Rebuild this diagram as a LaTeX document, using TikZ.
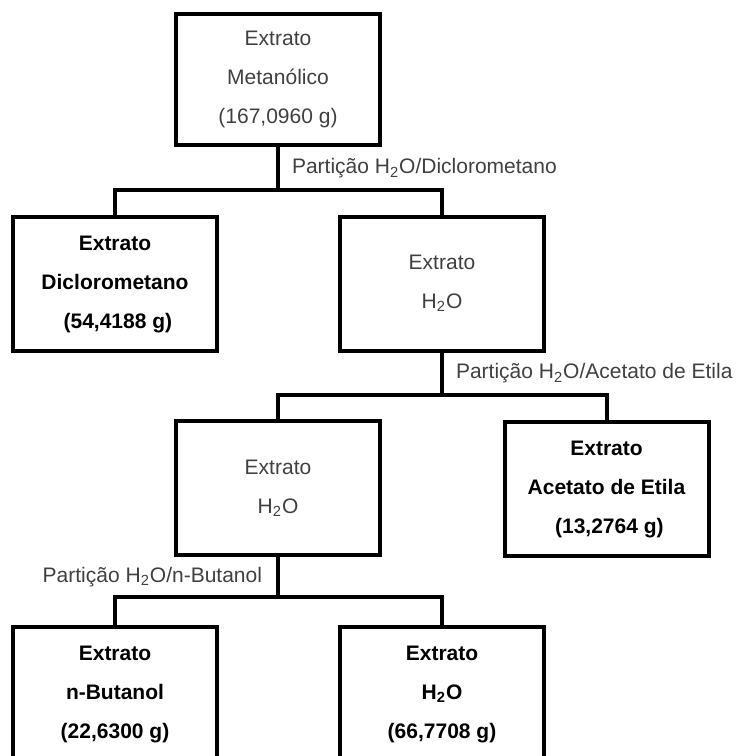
\documentclass[tikz,border=0pt]{standalone}
\usepackage{fontspec}
\setmainfont{Liberation Sans}
\usetikzlibrary{positioning}

\begin{document}
\begin{tikzpicture}[
  x=0.5pt, y=-0.5pt,
  font=\fontsize{10.5}{19.5}\selectfont,
  box/.style={rectangle, draw, line width=2pt, minimum width=102pt,
              minimum height=67pt, align=center, inner sep=0pt},
  plainbox/.style={box, text=black!75},
  boldbox/.style={box, font=\fontsize{10.5}{19.5}\selectfont\bfseries},
  link/.style={line width=2pt},
  part/.style={font=\fontsize{10.5}{12}\selectfont, text=black!75, inner sep=1pt},
  ]
  % --- page frame ---
  \clip (0,0) rectangle (738,756);

  % --- extracts ---
  \node[plainbox, minimum height=65.5pt] (met) at (278,79.5)
    {Extrato\\Metanólico\\(167,0960 g)};
  \node[boldbox] (dcm) at (115,284) {Extrato\\Diclorometano\\\ (54,4188 g)};
  \node[plainbox] (aq1) at (442,283.5) {Extrato\\H\textsubscript{2}O};
  \node[plainbox] (aq2) at (278,488) {Extrato\\H\textsubscript{2}O};
  \node[boldbox] (ace) at (606.5,489) {Extrato\\Acetato de Etila\\\ (13,2764 g)};
  \node[boldbox] (but) at (115,694) {Extrato\\n-Butanol\\(22,6300 g)};
  \node[boldbox] (aq3) at (442,694) {Extrato\\H\textsubscript{2}O\\(66,7708 g)};

  % --- partitions ---
  \draw[link] (met.south) -- node[part, right=5pt]
    {Partição H\textsubscript{2}O/Diclorometano} ++(0,43) coordinate (j1);
  \draw[link] (dcm.north) |- (j1) -| (aq1.north);

  \draw[link] (aq1.south) -- node[part, right=5pt]
    {Partição H\textsubscript{2}O/Acetato de Etila} ++(0,42) coordinate (j2);
  \draw[link] (aq2.north) |- (j2) -| (ace.north);

  \draw[link] (aq2.south) -- node[part, left=6pt]
    {Partição H\textsubscript{2}O/n-Butanol} ++(0,40) coordinate (j3);
  \draw[link] (but.north) |- (j3) -| (aq3.north);

\end{tikzpicture}
\end{document}
